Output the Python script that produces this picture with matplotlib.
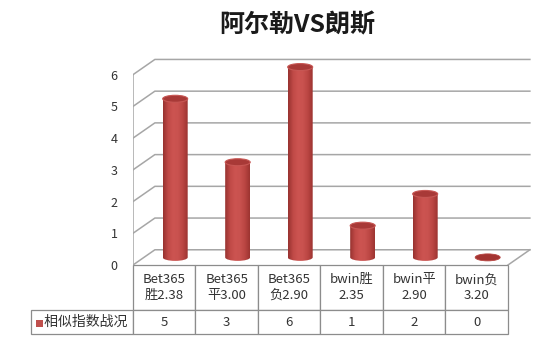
import numpy as np
import matplotlib as mpl
mpl.use("Agg")
import matplotlib.pyplot as plt
from matplotlib.patches import Rectangle, Ellipse, PathPatch
from matplotlib.path import Path
from matplotlib.colors import LinearSegmentedColormap

plt.rcParams['font.family'] = ['Noto Sans CJK SC', 'DejaVu Sans']

title = "阿尔勒VS朗斯"
categories = ["Bet365\n胜2.38", "Bet365\n平3.00", "Bet365\n负2.90",
              "bwin胜\n2.35", "bwin平\n2.90", "bwin负\n3.20"]
values = [5, 3, 6, 1, 2, 0]
series_name = "相似指数战况"
yticks = [0, 1, 2, 3, 4, 5, 6]

# fake 3d depth offset, in data units
DX, DY = 0.35, 0.48
R, E = 0.2, 0.11
GRID = '#a6a6a6'

body_cmap = LinearSegmentedColormap.from_list(
    "cyl", ['#983230', '#c04a47', '#cc5451', '#c9524f', '#bb4643', '#9c3431'])

fig = plt.figure(figsize=(5.5, 3.39), dpi=100)
AX_W, AX_H = 400, 210  # axes size in px
ax = fig.add_axes([133 / 550, 74 / 339, AX_W / 550, AX_H / 339])
n = len(categories)
ax.set_frame_on(False)
ax.set_xticks([])
ax.set_yticks(yticks)
ax.tick_params(axis='y', length=0, pad=11, labelsize=9, labelcolor='#333333')

# walls
top = max(yticks)
ax.plot([0, 0], [0, top], color=GRID, lw=1.1, zorder=1)
for v in yticks:
    ax.plot([0, DX, n + DX], [v, v + DY, v + DY], color=GRID, lw=1.1, zorder=1)
ax.plot([n, n + DX], [0, DY], color=GRID, lw=1.1, zorder=1)

# cylinders
grad = np.linspace(0, 1, 64).reshape(1, -1)
for i, v in enumerate(values):
    c = i + 0.5 + DX / 2
    b = DY / 2
    t = v + DY / 2
    if v > 0:
        k = 0.5523
        verts = [(c - R, t), (c - R, b),
                 (c - R, b - k * E), (c - k * R, b - E), (c, b - E),
                 (c + k * R, b - E), (c + R, b - k * E), (c + R, b),
                 (c + R, t), (c - R, t)]
        codes = [Path.MOVETO, Path.LINETO,
                 Path.CURVE4, Path.CURVE4, Path.CURVE4,
                 Path.CURVE4, Path.CURVE4, Path.CURVE4,
                 Path.LINETO, Path.CLOSEPOLY]
        body = PathPatch(Path(verts, codes), facecolor='none', edgecolor='none')
        ax.add_patch(body)
        im = ax.imshow(grad, cmap=body_cmap, extent=[c - R, c + R, b - E, t],
                       aspect='auto', zorder=3, interpolation='bilinear')
        im.set_clip_path(body)
        ax.add_patch(Ellipse((c, t), 2 * R, 2 * E, facecolor='#a83937',
                             edgecolor='#c75754', lw=0.8, zorder=4))
    else:
        ax.add_patch(Ellipse((c, t), 2 * R, 2 * E, facecolor='#a33432',
                             edgecolor='#b84542', lw=0.6, zorder=4))

ax.set_xlim(0, 6.4)
ax.set_ylim(0, 6.62)

# data table under the plot (bbox covers the grid, row label sticks out left)
tab = ax.table(cellText=[[str(v) for v in values]],
               rowLabels=[" " + series_name],
               colLabels=categories,
               cellLoc='center', rowLoc='left',
               bbox=[0, -69 / AX_H, 375 / AX_W, 69 / AX_H])
tab._autoColumns = []  # keep the row label column at a fixed width
tab.auto_set_font_size(False)
tab.set_fontsize(9.5)
for (r, col), cell in tab.get_celld().items():
    cell.set_edgecolor('#8c8c8c')
    cell.set_linewidth(0.9)
    cell.get_text().set_color('#333333')
    if r == 0:
        cell.set_height(45 / AX_H)
        cell.get_text().set_linespacing(1.25)
    else:
        cell.set_height(24 / AX_H)
    cell.set_width((102 if col == -1 else 62.5) / AX_W)
tab.get_celld()[(1, -1)].get_text().set_fontsize(10)

# legend key in row label
ax.add_patch(Rectangle((-97 / AX_W, -62 / AX_H), 7 / AX_W, 7 / AX_H,
                       transform=ax.transAxes, facecolor='#c0504d',
                       edgecolor='none', clip_on=False, zorder=5))

fig.text(0.54, 0.926, title, ha='center', va='center', fontsize=18,
         fontweight='bold', color='#1a1a1a')

fig.savefig("out.png", dpi=100, facecolor='white')
